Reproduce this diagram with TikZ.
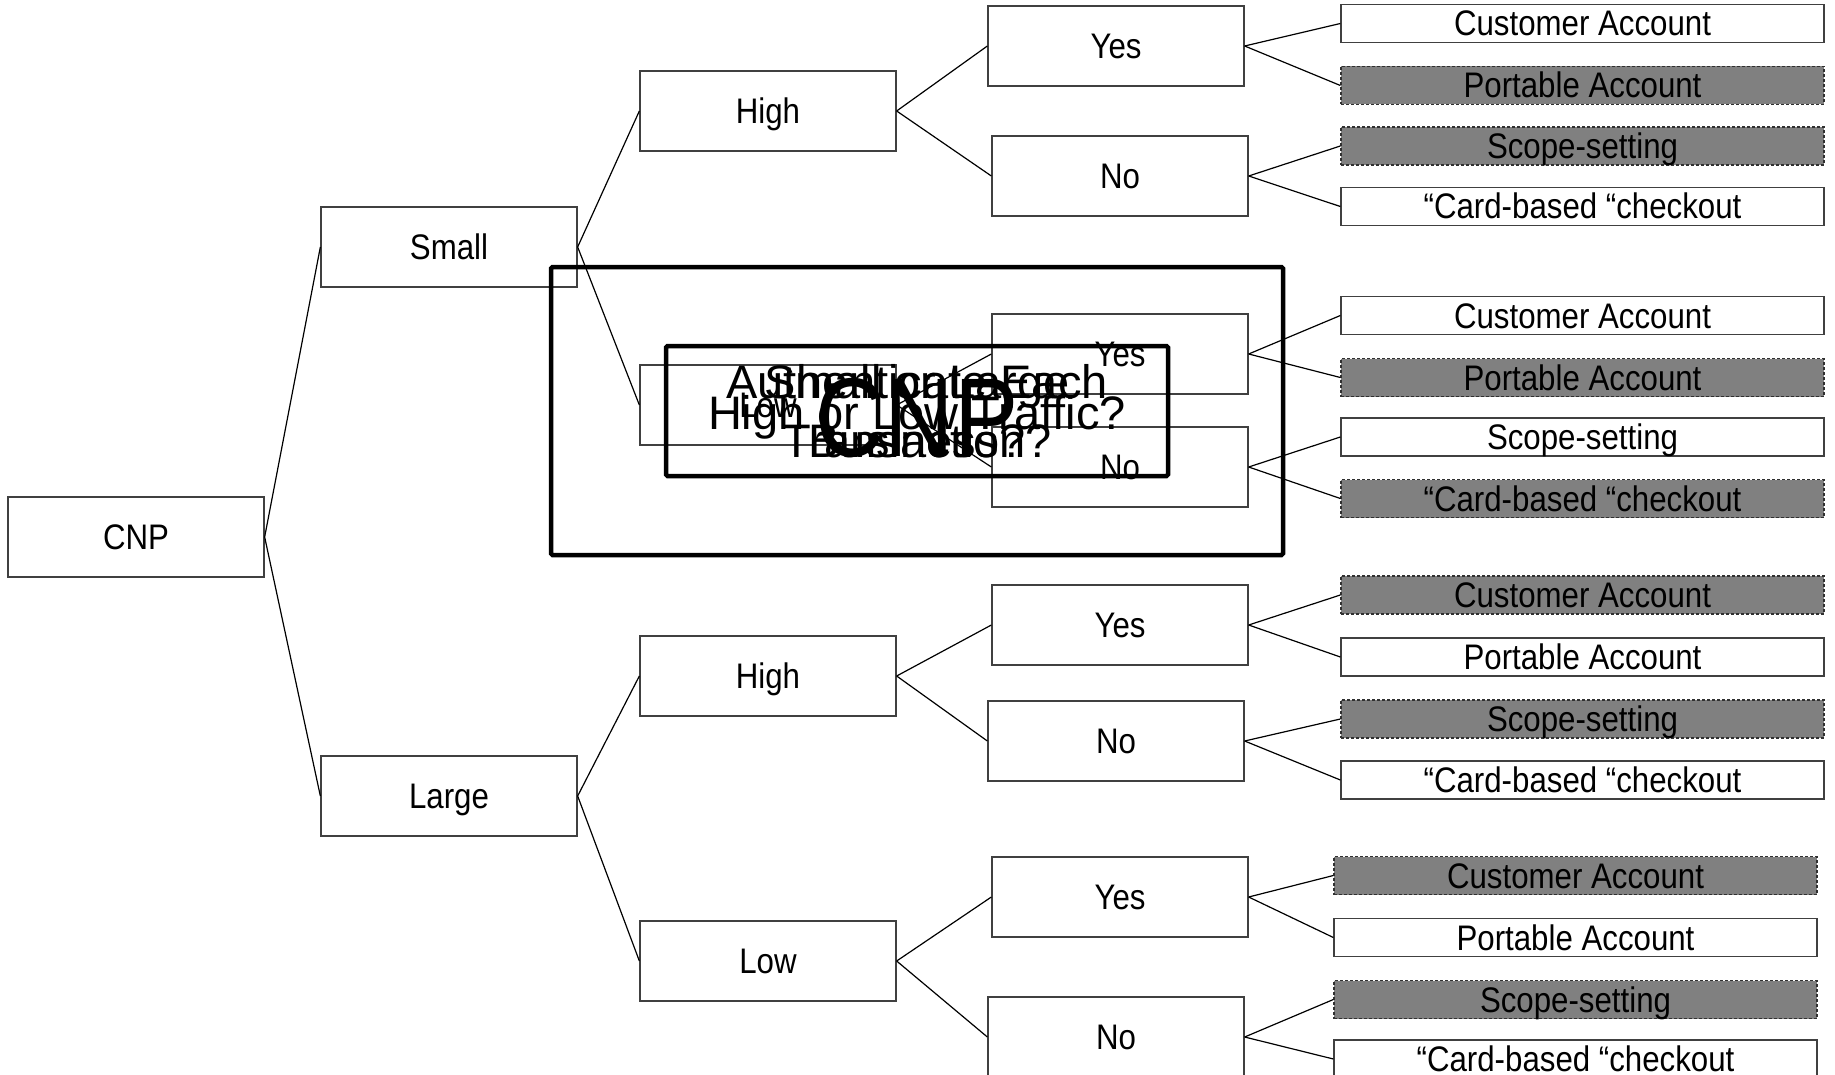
\documentclass[tikz,border=0pt]{standalone}
\usepackage{fontspec}
\setmainfont{Liberation Sans}
\newfontfamily\lblfont[FakeStretch=0.88]{Liberation Sans}
\newfontfamily\bigfont[FakeStretch=0.86]{Liberation Sans}
\definecolor{boxline}{HTML}{404040}
\definecolor{shadegray}{HTML}{808080}
\definecolor{dashline}{HTML}{303030}
\tikzset{
  box/.style={draw=boxline, line width=1.3pt, fill=white,
    minimum width=256pt, minimum height=80pt, inner sep=0pt,
    font=\lblfont\fontsize{35.5}{35.5}\selectfont, text height=25pt, text depth=0pt},
  leaf/.style={box, minimum width=483pt, minimum height=38pt},
  shaded/.style={fill=shadegray, draw=dashline, dash pattern=on 3pt off 2pt},
  link/.style={draw=black, line width=1.2pt},
  frame/.style={draw=black, line width=4.5pt, rounded corners=1.5pt},
  caption/.style={font=\fontsize{47}{59}\selectfont, align=center, inner sep=0pt}
}
\begin{document}
\begin{tikzpicture}[x=1pt, y=-1pt]
\useasboundingbox (0,0) rectangle (1835,1075);

% root and first two levels
\node[box] (cnp)   at (136,537) {CNP};
\node[box] (small) at (449,247) {Small};
\node[box] (large) at (449,796) {Large};
\node[box] (hiA)   at (768,111) {High};
\node[box] (loA)   at (768,405) {Low};
\node[box] (hiB)   at (768,676) {High};
\node[box] (loB)   at (768,961) {Low};

% authentication decision
\node[box] (yA) at (1116,46)  {Yes};
\node[box] (nA) at (1120,176) {No};
\node[box] (yB) at (1120,354) {Yes};
\node[box] (nB) at (1120,467) {No};
\node[box] (yC) at (1120,625) {Yes};
\node[box] (nC) at (1116,741) {No};
\node[box] (yD) at (1120,897) {Yes};
\node[box] (nD) at (1116,1037) {No};

% outcomes
\node[leaf]        (a1) at (1582.5,23.5)  {Customer Account};
\node[leaf,shaded] (a2) at (1582.5,85.5)  {Portable Account};
\node[leaf,shaded] (a3) at (1582.5,146)   {Scope-setting};
\node[leaf]        (a4) at (1582.5,206.5) {“Card-based “checkout};

\node[leaf]        (b1) at (1582.5,315.5) {Customer Account};
\node[leaf,shaded] (b2) at (1582.5,377.5) {Portable Account};
\node[leaf]        (b3) at (1582.5,437)   {Scope-setting};
\node[leaf,shaded] (b4) at (1582.5,498.5) {“Card-based “checkout};

\node[leaf,shaded] (c1) at (1582.5,595) {Customer Account};
\node[leaf]        (c2) at (1582.5,657) {Portable Account};
\node[leaf,shaded] (c3) at (1582.5,719) {Scope-setting};
\node[leaf]        (c4) at (1582.5,780) {“Card-based “checkout};

\node[leaf,shaded] (d1) at (1575.5,875.5) {Customer Account};
\node[leaf]        (d2) at (1575.5,937.5) {Portable Account};
\node[leaf,shaded] (d3) at (1575.5,999.5) {Scope-setting};
\node[leaf]        (d4) at (1575.5,1059)  {“Card-based “checkout};

% connectors
\draw[link] (cnp.east) -- (small.west);
\draw[link] (cnp.east) -- (large.west);
\draw[link] (small.east) -- (hiA.west);
\draw[link] (small.east) -- (loA.west);
\draw[link] (large.east) -- (hiB.west);
\draw[link] (large.east) -- (loB.west);
\draw[link] (hiA.east) -- (yA.west);
\draw[link] (hiA.east) -- (nA.west);
\draw[link] (loA.east) -- (yB.west);
\draw[link] (loA.east) -- (nB.west);
\draw[link] (hiB.east) -- (yC.west);
\draw[link] (hiB.east) -- (nC.west);
\draw[link] (loB.east) -- (yD.west);
\draw[link] (loB.east) -- (nD.west);
\foreach \p/\u/\v in {yA/a1/a2, nA/a3/a4, yB/b1/b2, nB/b3/b4,
                      yC/c1/c2, nC/c3/c4, yD/d1/d2, nD/d3/d4} {
  \draw[link] (\p.east) -- (\u.west);
  \draw[link] (\p.east) -- (\v.west);
}

% stacked question frames and their titles
\node[frame, minimum width=732pt, minimum height=288pt] (outer) at (917,411) {};
\node[frame, minimum width=502pt, minimum height=130pt] (inner) at (917,411) {};
\node[caption] (qauth)  at (917,411) {Authenticate Each\\Transaction?};
\node[caption] (qsize)  at (917,411) {Small or Large\\Business?};
\node[caption] (qtraf)  at (917,417) {High or Low Traffic?};
\node[font=\bigfont\fontsize{112}{112}\selectfont, inner sep=0pt, text height=80pt, text depth=0pt]
  (qcnp) at (917,416) {CNP};
\end{tikzpicture}
\end{document}
